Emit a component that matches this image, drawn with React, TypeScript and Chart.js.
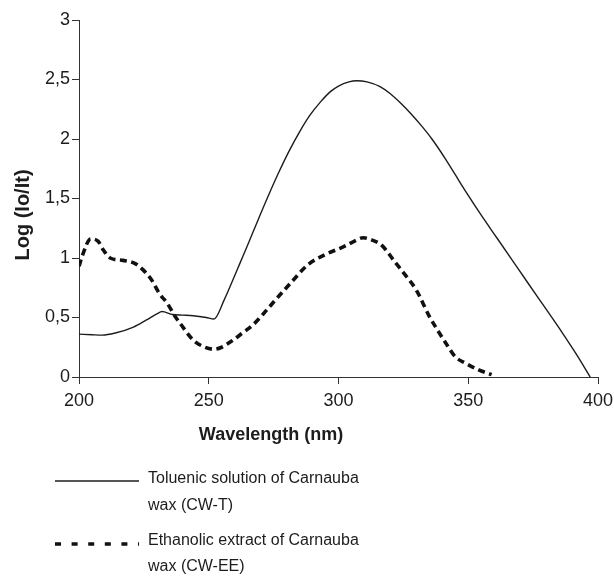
import React, { useEffect, useRef } from "react";
import { Chart, registerables } from "chart.js";

Chart.register(...registerables);

// Toluenic solution of Carnauba wax (CW-T)
const wavelengthT = [200, 205, 209, 214, 221, 226, 230, 232, 236, 240, 244, 249, 252, 256, 259, 262, 265, 269, 273, 277, 281, 285, 289, 293, 297, 300, 304, 307, 311, 316, 320, 324, 328, 332, 336, 341, 345, 349, 355, 361, 367, 373, 380, 386, 392, 397];
const absorbT = [0.36, 0.355, 0.352, 0.37, 0.42, 0.48, 0.53, 0.55, 0.525, 0.52, 0.515, 0.5, 0.487, 0.65, 0.8, 0.955, 1.11, 1.32, 1.525, 1.72, 1.9, 2.06, 2.2, 2.31, 2.4, 2.445, 2.48, 2.49, 2.48, 2.44, 2.38, 2.3, 2.21, 2.11, 2.0, 1.84, 1.7, 1.56, 1.36, 1.17, 0.98, 0.79, 0.57, 0.38, 0.18, 0.0];

// Ethanolic extract of Carnauba wax (CW-EE)
const wavelengthEE = [200, 201.3, 204.5, 207.4, 209.3, 212, 217, 221.5, 224.7, 228, 231, 234, 237, 239, 244, 247.5, 252, 255, 259, 263, 267, 271, 275, 282, 288, 295, 302, 306, 309.5, 313, 316.5, 322, 326, 330, 335, 338, 341.5, 345, 349, 354, 359];
const absorbEE = [0.93, 1.02, 1.16, 1.14, 1.07, 1.0, 0.98, 0.955, 0.9, 0.815, 0.7, 0.62, 0.51, 0.45, 0.31, 0.26, 0.233, 0.25, 0.305, 0.37, 0.437, 0.53, 0.63, 0.8, 0.94, 1.03, 1.095, 1.14, 1.17, 1.15, 1.11, 0.96, 0.85, 0.73, 0.51, 0.4, 0.28, 0.17, 0.115, 0.06, 0.02];

const xTicks = [200, 250, 300, 350, 400];
const yTicks = [0, 0.5, 1, 1.5, 2, 2.5, 3];

const seriesLabels = [
  ["Toluenic solution of Carnauba", "wax (CW-T)"],
  ["Ethanolic extract of Carnauba", "wax (CW-EE)"],
];
const xTitle = "Wavelength (nm)";
const yTitle = "Log (Io/It)";

const FONT = "'Liberation Sans', Arial, sans-serif";
const INK = "#1c1c1c";
const AXIS = "#333333";

const titlesAndLegend = {
  id: "titlesAndLegend",
  afterDraw(chart: any) {
    const ctx = chart.ctx;
    ctx.save();
    ctx.fillStyle = INK;
    // x title
    ctx.font = `bold 18px ${FONT}`;
    ctx.textAlign = "center";
    ctx.textBaseline = "middle";
    ctx.fillText(xTitle, 271, 435);
    // y title
    ctx.save();
    ctx.font = `bold 20px ${FONT}`;
    ctx.translate(23, 215);
    ctx.rotate(-Math.PI / 2);
    ctx.fillText(yTitle, 0, 0);
    ctx.restore();
    // legend
    const entries = [
      { lineY: 481, textY: [479, 506] },
      { lineY: 544, textY: [541, 567] },
    ];
    chart.data.datasets.forEach((ds: any, i: number) => {
      const e = entries[i];
      ctx.beginPath();
      ctx.strokeStyle = ds.borderColor;
      ctx.lineWidth = ds.borderWidth;
      ctx.lineCap = "butt";
      ctx.setLineDash(ds.borderDash && ds.borderDash.length ? [6, 10.6] : []);
      ctx.moveTo(55, e.lineY);
      ctx.lineTo(139, e.lineY);
      ctx.stroke();
      ctx.setLineDash([]);
      ctx.font = `16px ${FONT}`;
      ctx.textAlign = "left";
      ctx.textBaseline = "middle";
      ctx.fillStyle = INK;
      seriesLabels[i].forEach((t, j) => ctx.fillText(t, 148, e.textY[j]));
    });
    ctx.restore();
  },
};

export default function App() {
  const ref = useRef<HTMLCanvasElement>(null);
  useEffect(() => {
    const canvas = ref.current;
    if (!canvas) return;
    const chart = new Chart(canvas, {
      type: "line",
      data: {
        datasets: [
          {
            label: seriesLabels[0].join(" "),
            data: wavelengthT.map((x, i) => ({ x, y: absorbT[i] })),
            borderColor: INK,
            borderWidth: 1.4,
            pointRadius: 0,
            cubicInterpolationMode: "monotone",
            fill: false,
          },
          {
            label: seriesLabels[1].join(" "),
            data: wavelengthEE.map((x, i) => ({ x, y: absorbEE[i] })),
            borderColor: "#111111",
            borderWidth: 3.6,
            borderDash: [7, 4.5],
            borderCapStyle: "butt",
            pointRadius: 0,
            cubicInterpolationMode: "monotone",
            fill: false,
          },
        ],
      },
      options: {
        animation: false,
        responsive: false,
        devicePixelRatio: 1,
        layout: { padding: { left: 0, right: 16, top: 20, bottom: 0 } },
        plugins: { legend: { display: false }, tooltip: { enabled: false } },
        scales: {
          x: {
            type: "linear",
            min: 200,
            max: 400,
            afterBuildTicks: (s: any) => {
              s.ticks = xTicks.map((v) => ({ value: v }));
            },
            afterFit: (s: any) => {
              s.height = 199;
              s.paddingLeft = 0;
              s.paddingRight = 0;
            },
            grid: { drawOnChartArea: false, drawTicks: true, tickLength: 7, color: AXIS, lineWidth: 1 },
            border: { display: true, color: AXIS, width: 1 },
            ticks: { color: INK, font: { family: FONT, size: 18 }, padding: 6, maxRotation: 0 },
          },
          y: {
            type: "linear",
            min: 0,
            max: 3,
            afterBuildTicks: (s: any) => {
              s.ticks = yTicks.map((v) => ({ value: v }));
            },
            afterFit: (s: any) => {
              s.width = 79;
              s.paddingTop = 0;
              s.paddingBottom = 0;
            },
            grid: { drawOnChartArea: false, drawTicks: true, tickLength: 7, color: AXIS, lineWidth: 1 },
            border: { display: true, color: AXIS, width: 1 },
            ticks: {
              color: INK,
              font: { family: FONT, size: 18 },
              padding: 2,
              callback: (v: any) => String(v).replace(".", ","),
            },
          },
        },
      },
      plugins: [titlesAndLegend],
    } as any);
    return () => chart.destroy();
  }, []);
  return (
    <div style={{ position: "fixed", left: 0, top: 0, width: 614, height: 576, background: "#fff" }}>
      <canvas ref={ref} width={614} height={576} style={{ width: 614, height: 576, display: "block" }} />
    </div>
  );
}
